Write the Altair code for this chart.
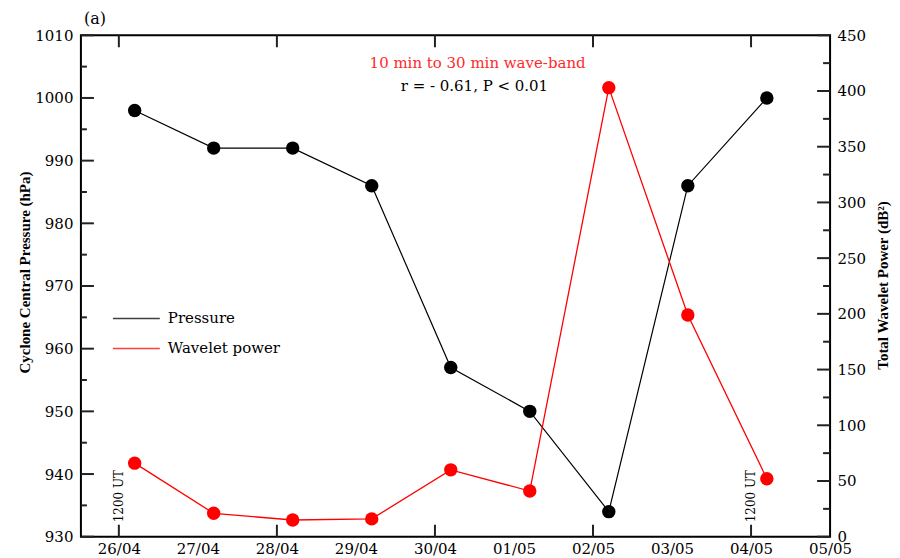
import altair as alt
import pandas as pd

# ---------------- data ----------------
day_labels = ["26/04", "27/04", "28/04", "29/04", "30/04", "01/05", "02/05", "03/05", "04/05", "05/05"]
obs_x = [0.2, 1.2, 2.2, 3.2, 4.2, 5.2, 6.2, 7.2, 8.2]
pressure = [998, 992, 992, 986, 957, 950, 934, 986, 1000]
power = [66, 21, 15, 16, 60, 41, 403, 199, 52]
series_names = ["Pressure", "Wavelet power"]
series_colors = ["#000000", "#ff0000"]

p_major = [930, 940, 950, 960, 970, 980, 990, 1000, 1010]
p_minor = [935, 945, 955, 965, 975, 985, 995, 1005]
w_major = [0, 50, 100, 150, 200, 250, 300, 350, 400, 450]
w_minor = [25, 75, 125, 175, 225, 275, 325, 375, 425]
x_ticks = [0, 2, 4, 6, 8]

utc_x = [0, 8]
utc_p = [932.3, 932.3]
utc_text = ["1200 UT", "1200 UT"]

band_text = ["10 min to 30 min wave-band"]
band_x = [4.54]
band_p = [1005.5]
corr_text = ["r = - 0.61, P < 0.01"]
corr_x = [4.5]
corr_p = [1001.9]

W, H = 750, 502
SERIF = "DejaVu Serif"
TSERIF = "Liberation Serif"

# ---------------- tables ----------------
p_df = pd.DataFrame({"x": obs_x, "p": pressure, "series": series_names[0]})
w_df = pd.DataFrame({"x": obs_x, "w": power, "series": series_names[1]})

label_expr = "[" + ",".join("'%s'" % d for d in day_labels) + "][datum.value]"

x_enc = alt.X(
    "x:Q",
    scale=alt.Scale(domain=[-0.48, 9.0], nice=False, zero=False),
    axis=alt.Axis(
        values=list(range(len(day_labels))), labelExpr=label_expr, title=None,
        ticks=False, domain=False, grid=False, labelPadding=5,
        labelFont=SERIF, labelFontSize=15, labelColor="black",
        labelFlush=False,
    ),
)

y_p = alt.Y(
    "p:Q",
    scale=alt.Scale(domain=[930, 1010], nice=False, zero=False),
    axis=alt.Axis(
        values=p_major, format="d", title="Cyclone Central Pressure (hPa)", orient="left",
        ticks=False, domain=False, grid=False, labelPadding=8,
        labelFont=SERIF, labelFontSize=15, labelColor="black",
        titleFont=TSERIF, titleFontSize=15, titleFontWeight="bold", titleColor="black",
        titleX=-56, titleY=237, titleAngle=270, titleAlign="center", titleBaseline="middle",
    ),
)

y_w = alt.Y(
    "w:Q",
    scale=alt.Scale(domain=[0, 450], nice=False, zero=True),
    axis=alt.Axis(
        values=w_major, format="d", title="Total Wavelet Power (dB²)", orient="right",
        ticks=False, domain=False, grid=False, labelPadding=7,
        labelFont=SERIF, labelFontSize=15, labelColor="black",
        titleFont=TSERIF, titleFontSize=15, titleFontWeight="bold", titleColor="black",
        titleX=52, titleY=250, titleAngle=270, titleAlign="center", titleBaseline="middle",
    ),
)

color_enc = alt.Color(
    "series:N",
    scale=alt.Scale(domain=series_names, range=series_colors),
    legend=alt.Legend(
        title=None, orient="none", legendX=45, legendY=273, direction="vertical",
        symbolType="M-2.5,0H2.5", symbolSize=353, symbolStrokeWidth=1.5,
        symbolOpacity=0.75, labelOffset=21, labelFont=SERIF, labelFontSize=15,
        labelColor="black", rowPadding=11, padding=0,
    ),
)

# ---------------- pressure group ----------------
p_line = alt.Chart(p_df).mark_line(strokeWidth=1.2).encode(x=x_enc, y=y_p, color=color_enc)
p_pts = alt.Chart(p_df).mark_circle(size=180, opacity=1).encode(x=x_enc, y=y_p, color=alt.value("black"))

lt_major = alt.Chart(pd.DataFrame({"p": p_major})).mark_rule(color="#222", strokeWidth=2).encode(
    y=y_p, x=alt.value(0), x2=alt.value(13))
lt_minor = alt.Chart(pd.DataFrame({"p": p_minor})).mark_rule(color="#222", strokeWidth=2).encode(
    y=y_p, x=alt.value(0), x2=alt.value(6))
bt = alt.Chart(pd.DataFrame({"x": x_ticks})).mark_rule(color="#222", strokeWidth=2).encode(
    x=x_enc, y=alt.value(H), y2=alt.value(H - 12))
tt = alt.Chart(pd.DataFrame({"x": x_ticks})).mark_rule(color="#222", strokeWidth=2).encode(
    x=x_enc, y=alt.value(0), y2=alt.value(12))

utc = alt.Chart(pd.DataFrame({"x": utc_x, "p": utc_p, "t": utc_text})).mark_text(
    angle=270, align="left", baseline="middle", font=SERIF, fontSize=12, color="black"
).encode(x=x_enc, y=y_p, text="t:N")

band = alt.Chart(pd.DataFrame({"x": band_x, "p": band_p, "t": band_text})).mark_text(
    align="center", baseline="middle", font=SERIF, fontSize=15, color="#ff2a2a"
).encode(x=x_enc, y=y_p, text="t:N")

corr = alt.Chart(pd.DataFrame({"x": corr_x, "p": corr_p, "t": corr_text})).mark_text(
    align="center", baseline="middle", font=SERIF, fontSize=15, color="black"
).encode(x=x_enc, y=y_p, text="t:N")

p_group = alt.layer(lt_major, lt_minor, bt, tt, utc, band, corr, p_line, p_pts)

# ---------------- power group ----------------
w_line = alt.Chart(w_df).mark_line(strokeWidth=1.3).encode(x=x_enc, y=y_w, color=color_enc)
w_pts = alt.Chart(w_df).mark_circle(size=180, opacity=1).encode(x=x_enc, y=y_w, color=alt.value("#ff0000"))

rt_major = alt.Chart(pd.DataFrame({"w": w_major})).mark_rule(color="#222", strokeWidth=2).encode(
    y=y_w, x=alt.value(W), x2=alt.value(W - 13))
rt_minor = alt.Chart(pd.DataFrame({"w": w_minor})).mark_rule(color="#222", strokeWidth=2).encode(
    y=y_w, x=alt.value(W), x2=alt.value(W - 7))

w_group = alt.layer(rt_major, rt_minor, w_line, w_pts)

chart = (
    alt.layer(p_group, w_group)
    .resolve_scale(y="independent")
    .properties(
        width=W, height=H,
        autosize=alt.AutoSizeParams(type="none"),
        padding={"left": 73, "top": 27, "right": 62, "bottom": 23},
        title=alt.TitleParams("(a)", anchor="start", frame="group", font=SERIF, fontSize=16,
                              fontWeight="normal", color="black", offset=1, dx=3),
        background="white",
    )
    .configure_view(stroke="black", strokeWidth=2)
)

chart.save("out.html", embed_options={"renderer": "svg", "actions": False})
